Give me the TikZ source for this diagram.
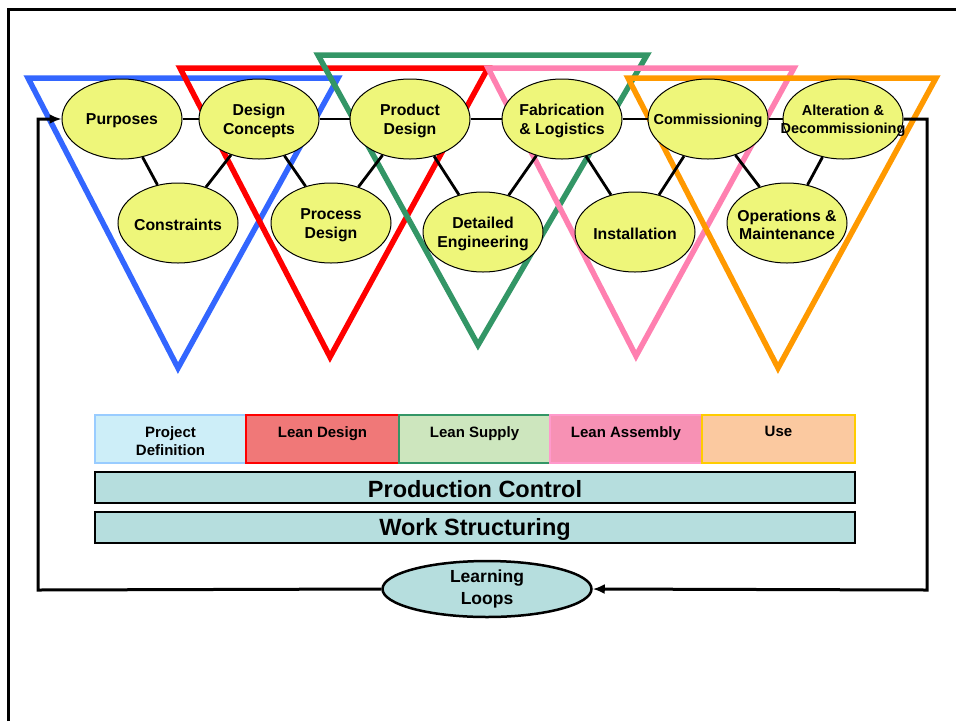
\documentclass[tikz,border=0pt]{standalone}
\usepackage{fontspec}
\setmainfont{Liberation Sans}
\usetikzlibrary{shapes.geometric,arrows.meta}
\definecolor{ellfill}{RGB}{238,246,122}
\definecolor{triblue}{RGB}{51,102,255}
\definecolor{trired}{RGB}{255,0,0}
\definecolor{trigreen}{RGB}{51,150,102}
\definecolor{tripink}{RGB}{255,128,176}
\definecolor{triorange}{RGB}{255,153,0}
\definecolor{tealfill}{RGB}{182,222,222}
\definecolor{pdfill}{RGB}{205,238,248}
\definecolor{pdline}{RGB}{153,204,255}
\definecolor{ldfill}{RGB}{240,120,120}
\definecolor{lsfill}{RGB}{205,230,190}
\definecolor{lafill}{RGB}{247,145,180}
\definecolor{lapink}{RGB}{255,153,204}
\definecolor{usfill}{RGB}{251,201,160}
\definecolor{usline}{RGB}{255,204,0}
\begin{document}
\begin{tikzpicture}[x=1pt,y=-1pt,
  tri/.style={line width=5.5pt, line join=miter},
  ell/.style={ellipse, draw=black, line width=1pt, fill=ellfill,
    minimum width=120pt, minimum height=80pt, inner sep=0pt},
  etxt/.style={align=center, inner sep=0pt, yshift=-2pt, font=\fontsize{15.8}{18.5}\selectfont\bfseries},
  stxt/.style={align=center, inner sep=0pt, yshift=-2pt, font=\fontsize{14.5}{18}\selectfont\bfseries},
  conn/.style={line width=2.8pt},
  loopline/.style={line width=3pt},
  phase/.style={rectangle, line width=2pt, minimum height=48pt, inner sep=0pt},
  btxt/.style={align=center, inner sep=0pt, font=\fontsize{15}{18}\selectfont\bfseries},
  bar/.style={rectangle, draw=black, line width=1.5pt, fill=tealfill, minimum width=760pt,
    minimum height=31pt, inner sep=0pt},
  bartxt/.style={inner sep=0pt, font=\fontsize{23.5}{26}\selectfont\bfseries},
]
\useasboundingbox (0,0) rectangle (956,721);
% outer frame
\draw[line width=3pt] (8,721) -- (8,9) -- (956,9);

% triangles
\draw[tri, triblue]   (28,78)  -- (338,78) -- (178,368) -- cycle;
\draw[tri, trired]    (180,68) -- (488,68) -- (330,357) -- cycle;
\draw[tri, trigreen]  (318,55) -- (647,55) -- (478,345) -- cycle;
\draw[tri, tripink]   (488,68) -- (794,68) -- (636,356) -- cycle;
\draw[tri, triorange] (628,78) -- (936,78) -- (778,368) -- cycle;

% ellipses
\node[ell, label={[etxt]center:Purposes}] (pur) at (122,119) {};
\node[ell, label={[etxt]center:Design\\Concepts}] (dc) at (259,119) {};
\node[ell, label={[etxt]center:Product\\Design}] (pd) at (410,119) {};
\node[ell, label={[etxt]center:Fabrication\\\& Logistics}] (fl) at (562,119) {};
\node[ell, label={[stxt]center:Commissioning}] (com) at (708,119) {};
\node[ell, label={[stxt]center:Alteration \&\\Decommissioning}] (alt) at (843,119) {};
\node[ell, label={[etxt]center:Constraints}] (con) at (178,223) {};
\node[ell, label={[etxt]center:Process\\Design}] (prd) at (331,223) {};
\node[ell, label={[etxt]center:Detailed\\Engineering}] (de) at (483,232) {};
\node[ell, label={[etxt]center:Installation}] (ins) at (635,232) {};
\node[ell, label={[etxt]center:Operations \&\\Maintenance}] (om) at (787,223) {};

% connectors
\draw[conn] (pur) -- (dc);
\draw[conn] (dc) -- (pd);
\draw[conn] (pd) -- (fl);
\draw[conn] (fl) -- (com);
\draw[conn] (com) -- (alt);
\draw[conn] (pur) -- (con);
\draw[conn] (con) -- (dc);
\draw[conn] (dc) -- (prd);
\draw[conn] (prd) -- (pd);
\draw[conn] (pd) -- (de);
\draw[conn] (de) -- (fl);
\draw[conn] (fl) -- (ins);
\draw[conn] (ins) -- (com);
\draw[conn] (com) -- (om);
\draw[conn] (om) -- (alt);

% phase boxes
\node[phase, fill=pdfill, draw=pdline, minimum width=151pt] (p1) at (170.5,439) {};
\node[phase, fill=ldfill, draw=trired, minimum width=153pt] (p2) at (322.5,439) {};
\node[phase, fill=lsfill, draw=trigreen, minimum width=151pt] (p3) at (474.5,439) {};
\node[phase, fill=lafill, draw=lapink, minimum width=152pt] (p4) at (626,439) {};
\node[phase, fill=usfill, draw=usline, minimum width=153pt] (p5) at (778.5,439) {};
\node[btxt, anchor=north] (t1) at (170.5,426) {Project\\Definition};
\node[btxt, anchor=north] (t2) at (322.5,426) {Lean Design};
\node[btxt, anchor=north] (t3) at (474.5,426) {Lean Supply};
\node[btxt, anchor=north] (t4) at (626,426) {Lean Assembly};
\node[btxt, anchor=north] (t5) at (778.5,426) {Use};

\node[bar] (pc) at (475,487.5) {};
\node[bartxt] (pct) at (475,489.5) {Production Control};
\node[bar] (ws) at (475,527.5) {};
\node[bartxt] (wst) at (475,529.5) {Work Structuring};

% learning loops
\node[ellipse, draw=black, line width=2.5pt, fill=tealfill, minimum width=209pt,
  minimum height=56pt, inner sep=0pt, align=center,
  font=\fontsize{17.5}{22}\selectfont\bfseries] (ll) at (487,589) {Learning\\Loops};

\coordinate (lb) at (38,590);
\coordinate (lt) at (38,119);
\coordinate (rt) at (927,119);
\coordinate (rb) at (927,590);
\draw[loopline, -{Latex[length=12pt,width=10pt]}] (ll.west) -- (lb) -- (lt) -- (pur);
\draw[loopline, -{Latex[length=12pt,width=10pt]}] (alt) -- (rt) -- (rb) -- (ll.east);
\end{tikzpicture}
\end{document}
